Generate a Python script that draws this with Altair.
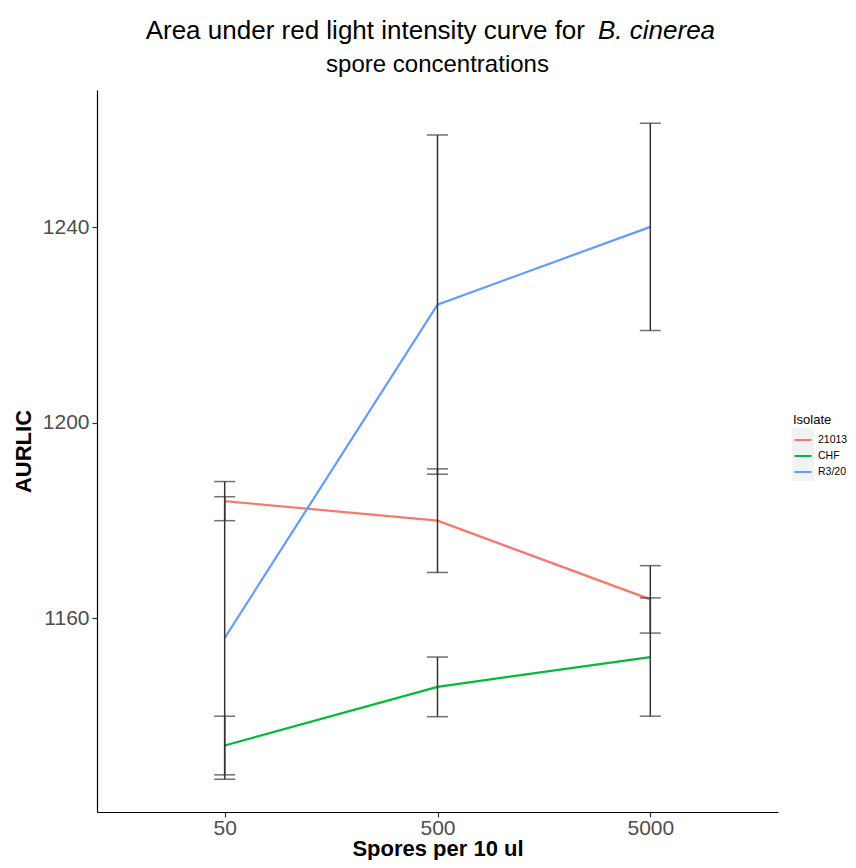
import altair as alt
import pandas as pd

doses = ["50", "500", "5000"]
isolates = ["21013", "CHF", "R3/20"]
colors = ["#F8766D", "#00BA38", "#619CFF"]

mean_21013 = [1184.0, 1180.0, 1163.9]
se_21013 = [4.0, 10.6, 6.9]
mean_chf = [1134.0, 1146.0, 1152.1]
se_chf = [6.0, 6.1, 12.1]
mean_r320 = [1156.0, 1224.2, 1240.1]
se_r320 = [28.9, 34.7, 21.2]

y_ticks = [1160, 1200, 1240]
title_line1_a = ["Area under red light intensity curve for"]
title_line1_b = ["B. cinerea"]
title_line2 = ["spore concentrations"]

rows = []
for iso, means, ses in zip(isolates, [mean_21013, mean_chf, mean_r320], [se_21013, se_chf, se_r320]):
    for d, m, s in zip(doses, means, ses):
        rows.append({"Isolate": iso, "dose": d, "mean": m, "lo": m - s, "hi": m + s})
df = pd.DataFrame(rows)

FONT = "Liberation Sans"

x_axis = alt.Axis(title="Spores per 10 ul", labelAngle=0, labelPadding=0, titlePadding=0)
y_axis = alt.Axis(title="AURLIC", values=y_ticks, format="d", labelPadding=3, titlePadding=7)
x_scale = alt.Scale(type="point", padding=0.6, domain=doses)
y_scale = alt.Scale(domain=[1120.4, 1268.1], nice=False, zero=False)

def X():
    return alt.X("dose:O", sort=doses, scale=x_scale, axis=x_axis)

def Y(field):
    return alt.Y(f"{field}:Q", scale=y_scale, axis=y_axis)

base = alt.Chart(df)

# light grey legend-key background (decoration only)
key_bg = alt.Chart(pd.DataFrame({"k": [0]})).mark_rect(color="#F2F2F2").encode(
    x=alt.value(695), x2=alt.value(717), y=alt.value(338), y2=alt.value(391)
)

lines = base.mark_line(strokeWidth=2.2).encode(
    x=X(),
    y=Y("mean"),
    color=alt.Color(
        "Isolate:N",
        scale=alt.Scale(domain=isolates, range=colors),
        legend=alt.Legend(
            title="Isolate",
            orient="none",
            legendX=696,
            legendY=324,
            titleFontSize=13,
            titleFontWeight="normal",
            titleColor="#000000",
            labelFontSize=10.5,
            labelColor="#000000",
            labelOffset=5,
            symbolType="stroke",
            symbolStrokeWidth=2,
            symbolSize=290,
            rowPadding=0,
            titlePadding=3,
        ),
    ),
)

err_rule = base.mark_rule(color="#333333", strokeWidth=1.5).encode(
    x=X(), y=Y("lo"), y2="hi:Q"
)
cap_lo = base.mark_tick(color="#333333", size=21, thickness=1.5).encode(x=X(), y=Y("lo"))
cap_hi = base.mark_tick(color="#333333", size=21, thickness=1.5).encode(x=X(), y=Y("hi"))

t1a = alt.Chart(pd.DataFrame({"t": title_line1_a})).mark_text(
    font=FONT, fontSize=26, align="right", baseline="middle", color="#000000"
).encode(x=alt.value(488), y=alt.value(-59), text="t:N")
t1b = alt.Chart(pd.DataFrame({"t": title_line1_b})).mark_text(
    font=FONT, fontSize=26, fontStyle="italic", align="left", baseline="middle", color="#000000"
).encode(x=alt.value(501), y=alt.value(-59), text="t:N")
t2 = alt.Chart(pd.DataFrame({"t": title_line2})).mark_text(
    font=FONT, fontSize=24, align="center", baseline="middle", color="#000000"
).encode(x=alt.value(340.5), y=alt.value(-25), text="t:N")

chart = alt.layer(key_bg, lines, err_rule, cap_lo, cap_hi, t1a, t1b, t2).properties(
    width=681,
    height=722,
    autosize=alt.AutoSizeParams(type="none"),
    padding={"left": 89, "top": 82, "right": 70, "bottom": 48},
).configure_view(stroke=None).configure_axis(
    grid=False,
    domainColor="#000000",
    domainWidth=1.2,
    tickColor="#333333",
    tickWidth=1.2,
    tickSize=5,
    labelColor="#4D4D4D",
    labelFontSize=21,
    labelFont=FONT,
    titleFont=FONT,
    titleFontSize=22,
    titleFontWeight="bold",
    titleColor="#000000",
).configure_legend(labelFont=FONT, titleFont=FONT)

chart.save("out.html", embed_options={"renderer": "svg", "actions": False})
